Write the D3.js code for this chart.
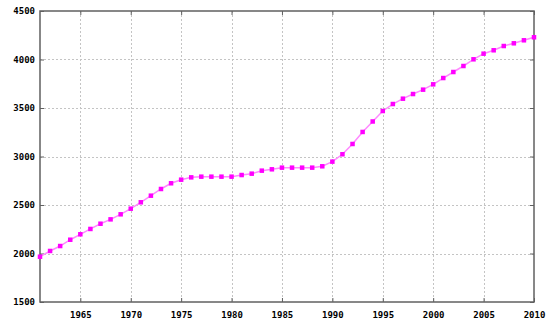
<!DOCTYPE html>
<html>
<head>
<meta charset="utf-8">
<script src="https://cdn.jsdelivr.net/npm/d3@7"></script>
<style>
  body { margin: 0; background: #fff; }
  svg text { font-family: "DejaVu Sans Mono", monospace; font-weight: bold; font-size: 9px; fill: #000; }
</style>
</head>
<body>
<div id="chart"></div>
<script>
'use strict';

// years and population values
const years = d3.range(1961, 2011);
const population = [
  1967, 2026, 2077, 2142, 2198, 2253, 2307, 2352, 2404, 2462,
  2528, 2596, 2665, 2724, 2761, 2785, 2792, 2792, 2792, 2792,
  2809, 2823, 2854, 2868, 2885, 2885, 2885, 2885, 2899, 2947,
  3023, 3129, 3253, 3361, 3469, 3541, 3596, 3644, 3689, 3744,
  3809, 3871, 3933, 4002, 4060, 4095, 4139, 4167, 4198, 4229
];
const xTicks = [1965, 1970, 1975, 1980, 1985, 1990, 1995, 2000, 2005, 2010];
const yTicks = [1500, 2000, 2500, 3000, 3500, 4000, 4500];

const width = 550,
      height = 323;
const margin = {'top': 11, 'right': 16, 'bottom': 21, 'left': 40};

let svg = d3.select('#chart')
            .append('svg')
            .attr('width', width)
            .attr('height', height);

let x = d3.scaleLinear()
          .domain([1961, 2010])
          .range([margin.left, width - margin.right]);
let y = d3.scaleLinear()
          .domain([1500, 4500])
          .range([height - margin.bottom, margin.top]);

// dotted grid
let grid = svg.append('g')
              .attr('stroke', '#c4c4c4')
              .attr('stroke-width', 1)
              .attr('stroke-dasharray', '2,2');
grid.selectAll('.gx')
    .data(xTicks.filter(d => d < 2010))
    .enter().append('line')
    .attr('x1', d => Math.round(x(d)) + 0.5)
    .attr('x2', d => Math.round(x(d)) + 0.5)
    .attr('y1', margin.top)
    .attr('y2', height - margin.bottom);
grid.selectAll('.gy')
    .data(yTicks.filter(d => d > 1500 && d < 4500))
    .enter().append('line')
    .attr('y1', d => Math.round(y(d)) + 0.5)
    .attr('y2', d => Math.round(y(d)) + 0.5)
    .attr('x1', margin.left)
    .attr('x2', width - margin.right);

// axes with inward ticks
let xAxis = d3.axisBottom(x).tickValues(xTicks).tickFormat(d3.format('d')).tickSize(-4).tickPadding(10);
let xAxisTop = d3.axisTop(x).tickValues(xTicks).tickFormat('').tickSize(-4);
let yAxis = d3.axisLeft(y).tickValues(yTicks).tickFormat(d3.format('d')).tickSize(-4).tickPadding(5);
let yAxisRight = d3.axisRight(y).tickValues(yTicks).tickFormat('').tickSize(-4);

function styleAxis(g) {
    g.select('.domain').remove();
    g.selectAll('line').attr('stroke', '#606060');
    g.selectAll('text').attr('font-family', null).attr('font-size', null);
}

svg.append('g').attr('transform', 'translate(0,' + (height - margin.bottom) + ')').call(xAxis).call(styleAxis);
svg.append('g').attr('transform', 'translate(0,' + margin.top + ')').call(xAxisTop).call(styleAxis);
svg.append('g').attr('transform', 'translate(' + margin.left + ',0)').call(yAxis).call(styleAxis);
svg.append('g').attr('transform', 'translate(' + (width - margin.right) + ',0)').call(yAxisRight).call(styleAxis);

// frame
svg.append('rect')
   .attr('x', margin.left)
   .attr('y', margin.top)
   .attr('width', width - margin.left - margin.right)
   .attr('height', height - margin.top - margin.bottom)
   .attr('fill', 'none')
   .attr('stroke', '#606060')
   .attr('stroke-width', 1.5);

// line and markers
let line = d3.line()
             .x((d, i) => x(years[i]))
             .y(d => y(d));
svg.append('path')
   .datum(population)
   .attr('d', line)
   .attr('fill', 'none')
   .attr('stroke', '#ff88ff')
   .attr('stroke-width', 1.5);

svg.selectAll('.pt')
   .data(population)
   .enter().append('rect')
   .attr('class', 'pt')
   .attr('x', (d, i) => x(years[i]) - 2.25)
   .attr('y', d => y(d) - 2.25)
   .attr('width', 4.5)
   .attr('height', 4.5)
   .attr('fill', '#ff00ff');
</script>
</body>
</html>
